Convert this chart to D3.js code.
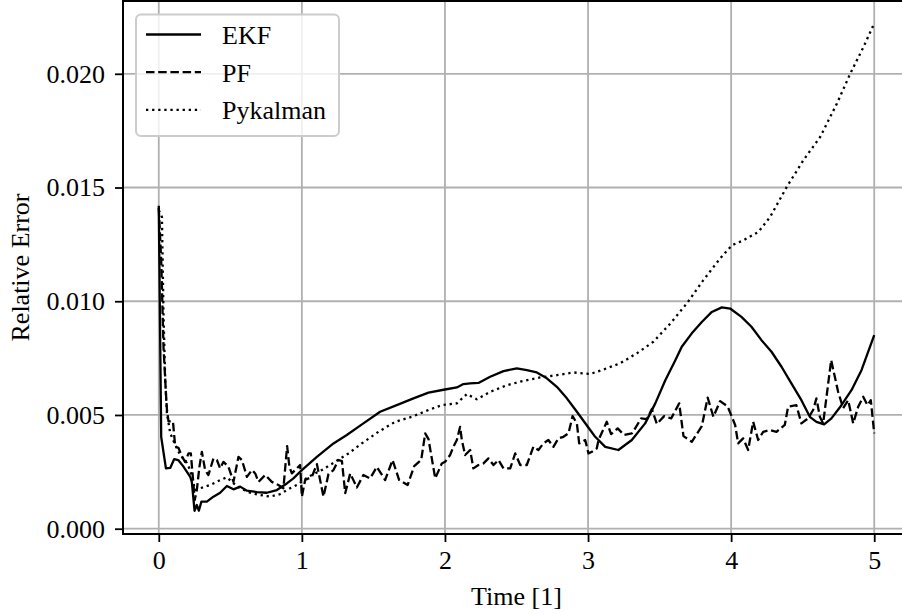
<head>
    <meta charset="utf-8">
    <script src="https://d3js.org/d3.v7.min.js"></script>
    <style>
        body {
            margin: 0;
            background: #fff;
        }
        svg text {
            font-family: "Liberation Serif", "Times New Roman", serif;
            font-size: 26px;
            fill: #000;
        }
    </style>
</head>

<body>

<svg width="902" height="615"></svg>

<script>

    //
    // data (time, relative error)
    //

    var ekfTime = [0, 0.017, 0.05, 0.08, 0.108, 0.136, 0.17, 0.22, 0.231, 0.243, 0.25, 0.266, 0.28, 0.298, 0.336,
        0.382, 0.429, 0.476, 0.522, 0.569, 0.616, 0.686, 0.755, 0.825, 0.895, 0.941, 1.0, 1.105, 1.221, 1.314,
        1.43, 1.547, 1.663, 1.78, 1.885, 2.0, 2.083, 2.129, 2.176, 2.234, 2.316, 2.409, 2.502, 2.572, 2.642,
        2.712, 2.782, 2.852, 2.922, 3.015, 3.05, 3.12, 3.212, 3.306, 3.399, 3.47, 3.54, 3.61, 3.655, 3.725,
        3.795, 3.865, 3.935, 3.993, 4.072, 4.142, 4.212, 4.282, 4.352, 4.421, 4.491, 4.55, 4.596, 4.65, 4.701,
        4.771, 4.841, 4.911, 5.0];
    var ekfError = [0.0142, 0.00403, 0.00265, 0.00267, 0.00306, 0.00302, 0.00275, 0.00228, 0.00206, 0.00126,
        0.00079, 0.00104, 0.00079, 0.00119, 0.00119, 0.00141, 0.00158, 0.00188, 0.00173, 0.00185, 0.00167,
        0.00161, 0.00158, 0.00170, 0.00199, 0.00221, 0.00258, 0.00316, 0.00375, 0.00412, 0.00463, 0.00514,
        0.00543, 0.00573, 0.00598, 0.00612, 0.00621, 0.00636, 0.00639, 0.00641, 0.00668, 0.00693, 0.00705,
        0.00697, 0.00687, 0.00661, 0.00624, 0.00573, 0.00514, 0.00434, 0.00404, 0.00360, 0.00346, 0.00390,
        0.00463, 0.00551, 0.00653, 0.00741, 0.00800, 0.00859, 0.00909, 0.00953, 0.00973, 0.00968, 0.00931,
        0.00888, 0.00829, 0.00778, 0.00712, 0.00639, 0.00565, 0.00492, 0.00470, 0.00459, 0.00485, 0.00543,
        0.00609, 0.00697, 0.00851];

    var pfTime = [0, 0.017, 0.033, 0.05, 0.057, 0.068, 0.099, 0.115, 0.138, 0.161, 0.184, 0.208, 0.224, 0.238,
        0.251, 0.266, 0.284, 0.301, 0.324, 0.347, 0.382, 0.406, 0.429, 0.452, 0.487, 0.522, 0.557, 0.581, 0.616,
        0.651, 0.674, 0.697, 0.744, 0.79, 0.836, 0.871, 0.897, 0.913, 0.93, 0.965, 0.988, 1.0, 1.023, 1.07,
        1.105, 1.151, 1.186, 1.221, 1.256, 1.28, 1.303, 1.338, 1.384, 1.43, 1.477, 1.524, 1.582, 1.634, 1.68,
        1.739, 1.785, 1.834, 1.862, 1.885, 1.932, 1.978, 2.001, 2.036, 2.059, 2.083, 2.106, 2.118, 2.141, 2.176,
        2.199, 2.234, 2.269, 2.304, 2.339, 2.374, 2.409, 2.456, 2.491, 2.526, 2.572, 2.618, 2.653, 2.688, 2.723,
        2.758, 2.793, 2.828, 2.863, 2.892, 2.922, 2.938, 2.98, 3.003, 3.027, 3.061, 3.073, 3.131, 3.161, 3.207,
        3.252, 3.306, 3.329, 3.371, 3.411, 3.446, 3.481, 3.532, 3.581, 3.637, 3.667, 3.725, 3.795, 3.836, 3.876,
        3.923, 3.976, 4.028, 4.049, 4.084, 4.119, 4.154, 4.189, 4.224, 4.27, 4.317, 4.375, 4.398, 4.456, 4.491,
        4.538, 4.573, 4.596, 4.62, 4.643, 4.699, 4.748, 4.783, 4.818, 4.853, 4.888, 4.923, 4.953, 4.976, 5.0];
    var pfError = [0.0141, 0.0118, 0.0080, 0.00596, 0.00524, 0.00472, 0.00472, 0.00360, 0.00355, 0.00319,
        0.00294, 0.00331, 0.00331, 0.00228, 0.00126, 0.00170, 0.00272, 0.00338, 0.00258, 0.00236, 0.00309,
        0.00302, 0.00265, 0.00294, 0.00272, 0.00206, 0.00316, 0.00302, 0.00228, 0.00258, 0.00243, 0.00206,
        0.00236, 0.00206, 0.00192, 0.00178, 0.00363, 0.00272, 0.00243, 0.00265, 0.00280, 0.00141, 0.00214,
        0.00228, 0.00284, 0.00141, 0.00240, 0.00258, 0.00302, 0.00297, 0.00156, 0.00243, 0.00181, 0.00236,
        0.00221, 0.00272, 0.00214, 0.00302, 0.00214, 0.00192, 0.00275, 0.00302, 0.00419, 0.00394, 0.00221,
        0.00287, 0.00294, 0.00324, 0.00360, 0.00390, 0.00448, 0.00390, 0.00324, 0.00346, 0.00265, 0.00280,
        0.00287, 0.00309, 0.00280, 0.00302, 0.00265, 0.00265, 0.00331, 0.00280, 0.00280, 0.00360, 0.00346,
        0.00375, 0.00390, 0.00360, 0.00397, 0.00404, 0.00419, 0.00495, 0.00463, 0.00375, 0.00390, 0.00331,
        0.00338, 0.00353, 0.00390, 0.00470, 0.00416, 0.00441, 0.00412, 0.00419, 0.00441, 0.00485, 0.00482,
        0.00526, 0.00460, 0.00495, 0.00485, 0.00551, 0.00407, 0.00382, 0.00451, 0.00576, 0.00492, 0.00561,
        0.00537, 0.00456, 0.00375, 0.00397, 0.00346, 0.00470, 0.00390, 0.00426, 0.00434, 0.00426, 0.00456,
        0.00536, 0.00543, 0.00463, 0.00485, 0.00522, 0.00573, 0.00492, 0.00463, 0.00741, 0.00601, 0.00530,
        0.00565, 0.00463, 0.00536, 0.00580, 0.00543, 0.00565, 0.00419];

    var pykTime = [0, 0.022, 0.033, 0.045, 0.057, 0.08, 0.115, 0.15, 0.196, 0.219, 0.254, 0.289, 0.359, 0.429,
        0.476, 0.522, 0.569, 0.639, 0.709, 0.778, 0.848, 0.918, 0.965, 1.046, 1.14, 1.233, 1.326, 1.419, 1.535,
        1.652, 1.769, 1.885, 1.978, 2.083, 2.153, 2.223, 2.316, 2.433, 2.549, 2.665, 2.782, 2.898, 3.015, 3.108,
        3.224, 3.341, 3.457, 3.575, 3.69, 3.806, 3.923, 4.005, 4.086, 4.191, 4.273, 4.389, 4.505, 4.622, 4.739,
        4.832, 4.925, 4.994];
    var pykError = [0.0140, 0.0137, 0.00947, 0.00653, 0.00508, 0.00420, 0.00368, 0.00324, 0.00289, 0.00258,
        0.00170, 0.00178, 0.00192, 0.00214, 0.00226, 0.00200, 0.00178, 0.00158, 0.00148, 0.00141, 0.00152,
        0.00178, 0.00192, 0.00228, 0.00258, 0.00294, 0.00331, 0.00375, 0.00426, 0.00470, 0.00492, 0.00522,
        0.00543, 0.00551, 0.00592, 0.00569, 0.00602, 0.00631, 0.00650, 0.00665, 0.00675, 0.00687, 0.00680,
        0.00700, 0.00727, 0.00771, 0.00822, 0.00902, 0.00990, 0.01093, 0.01188, 0.01246, 0.01268, 0.01305,
        0.01371, 0.01503, 0.01620, 0.01722, 0.01869, 0.02000, 0.02118, 0.02213];

    var series = [
        {name: "EKF", t: ekfTime, v: ekfError, dash: null},
        {name: "PF", t: pfTime, v: pfError, dash: "8.5,3.7"},
        {name: "Pykalman", t: pykTime, v: pykError, dash: "2.3,3.8"}
    ];

    var xTicks = [0, 1, 2, 3, 4, 5];
    var yTicks = [0, 0.005, 0.010, 0.015, 0.020];

    chart();

    function chart() {

        //
        // svg, scales and grid
        //

        var svg = d3.select("svg"),
            box = {left: 123, right: 910, top: 1, bottom: 534};

        var x = d3.scaleLinear().domain([-0.25, 5.25]).range([box.left, box.right]);
        var y = d3.scaleLinear().domain([-0.000233, 0.0232]).range([box.bottom, box.top]);

        svg.append("defs").append("clipPath").attr("id", "plot")
            .append("rect")
            .attr("x", box.left).attr("y", box.top)
            .attr("width", box.right - box.left).attr("height", box.bottom - box.top);

        var grid = svg.append("g")
            .attr("stroke", "#b0b0b0")
            .attr("stroke-width", 1.8);

        grid.selectAll(".vx").data(xTicks).enter().append("line")
            .attr("x1", d => x(d)).attr("x2", d => x(d))
            .attr("y1", box.top).attr("y2", box.bottom);

        grid.selectAll(".hy").data(yTicks).enter().append("line")
            .attr("y1", d => y(d)).attr("y2", d => y(d))
            .attr("x1", box.left).attr("x2", box.right);

        //
        // lines
        //

        var line = d3.line()
            .x(d => x(d[0]))
            .y(d => y(d[1]));

        svg.append("g").attr("clip-path", "url(#plot)")
            .selectAll("path")
            .data(series)
            .enter().append("path")
            .attr("fill", "none")
            .attr("stroke", "#000")
            .attr("stroke-width", 2.3)
            .attr("stroke-linejoin", "round")
            .attr("stroke-dasharray", d => d.dash)
            .attr("d", d => line(d.t.map((t, i) => [t, d.v[i]])));

        //
        // axes
        //

        var xAxis = svg.append("g")
            .attr("transform", "translate(0," + box.bottom + ")")
            .call(d3.axisBottom(x).tickValues(xTicks).tickFormat(d3.format("d")).tickSize(8).tickPadding(9));

        var yAxis = svg.append("g")
            .attr("transform", "translate(" + box.left + ",0)")
            .call(d3.axisLeft(y).tickValues(yTicks).tickFormat(d3.format(".3f")).tickSize(8).tickPadding(10));

        [xAxis, yAxis].forEach(function(a) {
            a.attr("font-size", null).attr("font-family", null);
            a.select(".domain").remove();
            a.selectAll(".tick line").attr("stroke", "#000").attr("stroke-width", 1.8);
        });

        // spines (the right one falls outside the picture)
        var spines = svg.append("g").attr("stroke", "#000").attr("stroke-width", 2).attr("stroke-linecap", "square");
        spines.append("line").attr("x1", box.left).attr("x2", box.left).attr("y1", box.top).attr("y2", box.bottom);
        spines.append("line").attr("x1", box.left).attr("x2", box.right).attr("y1", box.bottom).attr("y2", box.bottom);
        spines.append("line").attr("x1", box.left).attr("x2", box.right).attr("y1", box.top).attr("y2", box.top);

        svg.append("text")
            .attr("x", (box.left + box.right) / 2)
            .attr("y", 605)
            .attr("text-anchor", "middle")
            .text("Time [1]");

        svg.append("text")
            .attr("transform", "translate(29," + ((box.top + box.bottom) / 2) + ") rotate(-90)")
            .attr("text-anchor", "middle")
            .text("Relative Error");

        //
        // legend
        //

        var legend = svg.append("g");

        legend.append("rect")
            .attr("x", 136).attr("y", 14.5)
            .attr("width", 203).attr("height", 121.5)
            .attr("rx", 5)
            .attr("fill", "#fff")
            .attr("fill-opacity", 0.8)
            .attr("stroke", "#cccccc")
            .attr("stroke-width", 2);

        var rows = legend.selectAll(".row")
            .data(series)
            .enter().append("g")
            .attr("transform", (d, i) => "translate(0," + (44 + i * 37.7) + ")");

        rows.append("line")
            .attr("x1", 146).attr("x2", 201)
            .attr("y1", -9.5).attr("y2", -9.5)
            .attr("stroke", "#000")
            .attr("stroke-width", 2.3)
            .attr("stroke-dasharray", d => d.dash);

        rows.append("text")
            .attr("x", 222)
            .text(d => d.name);
    }

</script>
</body>
